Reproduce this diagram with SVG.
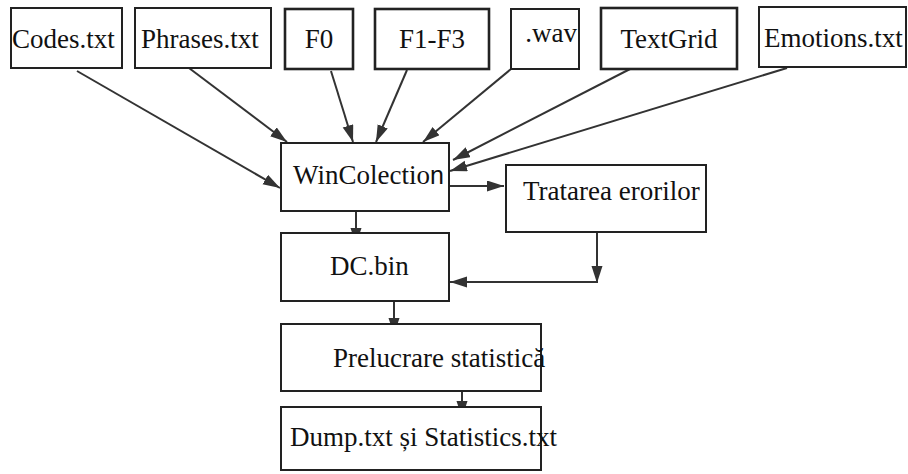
<svg xmlns="http://www.w3.org/2000/svg" width="908" height="474" viewBox="0 0 908 474">
<style>
.box{fill:#fff;stroke:#222;stroke-width:2}
.bold{stroke-width:2.6}
.lbl{font-family:'Liberation Serif',serif;font-size:27px;fill:#111}
.sans{font-family:'Liberation Sans',sans-serif;font-size:25px}
.edge{fill:none;stroke:#333;stroke-width:2}
</style>
<defs>
<marker id="ah" markerUnits="userSpaceOnUse" markerWidth="18" markerHeight="12" refX="17" refY="5.5" orient="auto">
<path d="M0,0 L17,5.5 L0,11 z" fill="#333"/>
</marker>
</defs>
<rect width="908" height="474" fill="#fff"/>
<g id="edges">
<line class="edge" x1="77" y1="71" x2="280" y2="188" marker-end="url(#ah)"/>
<line class="edge" x1="185" y1="65" x2="287" y2="142" marker-end="url(#ah)"/>
<line class="edge" x1="331" y1="71" x2="353" y2="142" marker-end="url(#ah)"/>
<line class="edge" x1="407" y1="70" x2="376" y2="142" marker-end="url(#ah)"/>
<line class="edge" x1="511" y1="69" x2="423" y2="142" marker-end="url(#ah)"/>
<line class="edge" x1="632" y1="68" x2="453" y2="160" marker-end="url(#ah)"/>
<line class="edge" x1="787" y1="68" x2="450" y2="171" marker-end="url(#ah)"/>
<line class="edge" x1="449" y1="186" x2="504" y2="186" marker-end="url(#ah)"/>
<line class="edge" x1="356" y1="208" x2="356" y2="245" marker-end="url(#ah)"/>
<line class="edge" x1="597" y1="217" x2="597" y2="283" marker-end="url(#ah)"/>
<line class="edge" x1="597" y1="282" x2="450" y2="282" marker-end="url(#ah)"/>
<line class="edge" x1="394" y1="302" x2="394" y2="335" marker-end="url(#ah)"/>
<line class="edge" x1="462" y1="373" x2="462" y2="418" marker-end="url(#ah)"/>
</g>
<g id="codes"><rect class="box" x="11" y="8" width="111" height="60"/><text class="lbl" x="12" y="48">Codes.txt</text></g>
<g id="phrases"><rect class="box" x="135" y="8" width="136" height="60"/><text class="lbl" x="141" y="48">Phrases.txt</text></g>
<g id="f0"><rect class="box bold" x="285" y="9" width="68" height="60"/><text class="lbl" x="319" y="48" text-anchor="middle">F0</text></g>
<g id="f1f3"><rect class="box bold" x="375" y="9" width="114" height="60"/><text class="lbl" x="432" y="48" text-anchor="middle">F1-F3</text></g>
<g id="wav"><rect class="box" x="511" y="9" width="68" height="60"/><text class="lbl" x="577" y="42" text-anchor="end">.wav</text></g>
<g id="textgrid"><rect class="box bold" x="601" y="8" width="136" height="61"/><text class="lbl" x="669" y="48" text-anchor="middle">TextGrid</text></g>
<g id="emotions"><rect class="box" x="759" y="7" width="147" height="60"/><text class="lbl" x="764" y="47">Emotions.txt</text></g>
<g id="wincolection"><rect class="box" x="281" y="143" width="168" height="68"/><text class="lbl" x="293" y="184">WinColectio<tspan class="sans">n</tspan></text></g>
<g id="tratarea"><rect class="box" x="506" y="165" width="200" height="67"/><text class="lbl" x="523" y="200">Tratarea erorilor</text></g>
<g id="dcbin"><rect class="box" x="281" y="233" width="168" height="68"/><text class="lbl" x="330" y="275">DC.bin</text></g>
<g id="prelucrare"><rect class="box" x="281" y="324" width="260" height="67"/><text class="lbl" x="333" y="367">Prelucrare statistică</text></g>
<g id="dump"><rect class="box" x="281" y="407" width="260" height="63"/><text class="lbl" x="290" y="446">Dump.txt și Statistics.txt</text></g>
</svg>
